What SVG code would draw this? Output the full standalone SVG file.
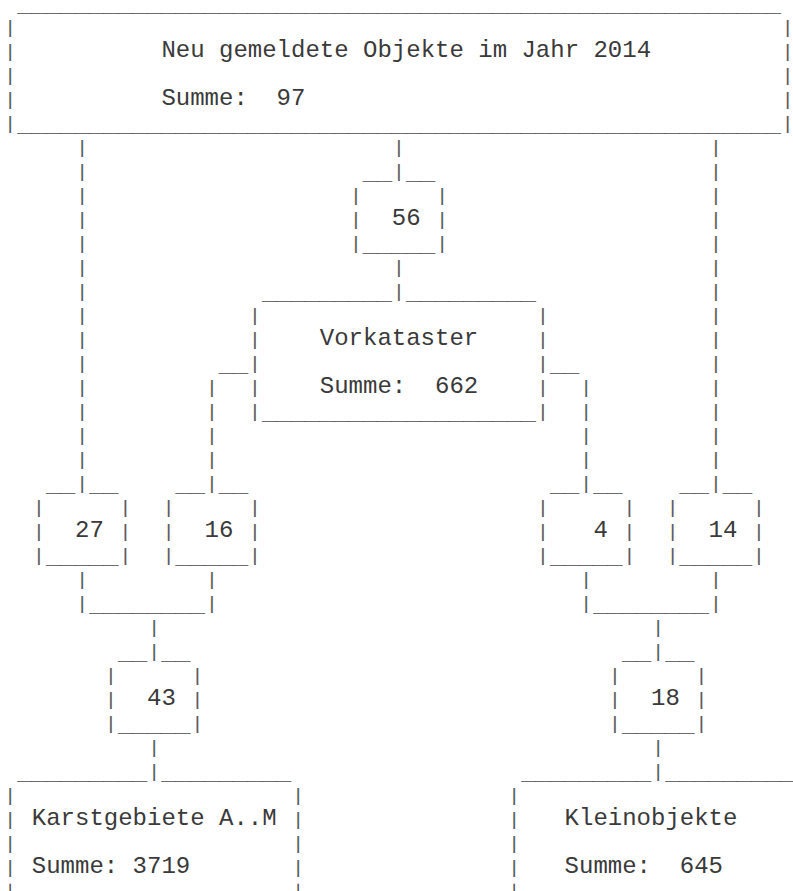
<svg xmlns="http://www.w3.org/2000/svg" width="793" height="891" viewBox="0 0 793 891" xml:space="preserve">
<style>
text{font-family:"Liberation Mono","Courier New",monospace;white-space:pre}
.l{font-size:24px;fill:#3a3a3a}
.p{font-size:18px;fill:#555555;stroke:#555555;stroke-width:0.2;text-anchor:middle;opacity:0.99}
.pe{font-size:8px;fill:#555555;stroke:#555555;stroke-width:0.7;text-anchor:middle;opacity:0.99}
.u{font-size:14px;fill:#4a4a4a;stroke:#4a4a4a;stroke-width:0.3;opacity:0.99}
</style>
<rect width="793" height="891" fill="#ffffff"/>
<g id="connectors">
<text class="p"><tspan x="82.2" y="153">|</tspan><tspan x="82.2" y="177">|</tspan><tspan x="82.2" y="201">|</tspan><tspan x="82.2" y="225">|</tspan><tspan x="82.2" y="249">|</tspan><tspan x="82.2" y="273">|</tspan><tspan x="82.2" y="297">|</tspan><tspan x="82.2" y="321">|</tspan><tspan x="82.2" y="345">|</tspan><tspan x="82.2" y="369">|</tspan><tspan x="82.2" y="393">|</tspan><tspan x="82.2" y="417">|</tspan><tspan x="82.2" y="441">|</tspan><tspan x="82.2" y="465">|</tspan><tspan x="82.2" y="489">|</tspan></text>
<text class="p"><tspan x="715.8" y="153">|</tspan><tspan x="715.8" y="177">|</tspan><tspan x="715.8" y="201">|</tspan><tspan x="715.8" y="225">|</tspan><tspan x="715.8" y="249">|</tspan><tspan x="715.8" y="273">|</tspan><tspan x="715.8" y="297">|</tspan><tspan x="715.8" y="321">|</tspan><tspan x="715.8" y="345">|</tspan><tspan x="715.8" y="369">|</tspan><tspan x="715.8" y="393">|</tspan><tspan x="715.8" y="417">|</tspan><tspan x="715.8" y="441">|</tspan><tspan x="715.8" y="465">|</tspan><tspan x="715.8" y="489">|</tspan></text>
<text class="p"><tspan x="399" y="153">|</tspan><tspan x="399" y="177">|</tspan><tspan x="399" y="273">|</tspan><tspan x="399" y="297">|</tspan></text>
<text class="u" x="219" y="372" textLength="28.8" lengthAdjust="spacingAndGlyphs">__</text>
<text class="u" x="550.2" y="372" textLength="28.8" lengthAdjust="spacingAndGlyphs">__</text>
<text class="p"><tspan x="211.8" y="393">|</tspan><tspan x="211.8" y="417">|</tspan><tspan x="211.8" y="441">|</tspan><tspan x="211.8" y="465">|</tspan><tspan x="211.8" y="489">|</tspan></text>
<text class="p"><tspan x="586.2" y="393">|</tspan><tspan x="586.2" y="417">|</tspan><tspan x="586.2" y="441">|</tspan><tspan x="586.2" y="465">|</tspan><tspan x="586.2" y="489">|</tspan></text>
<text class="p"><tspan x="82.2" y="585">|</tspan><tspan x="82.2" y="609">|</tspan><tspan x="211.8" y="585">|</tspan><tspan x="211.8" y="609">|</tspan><tspan x="154.2" y="633">|</tspan><tspan x="154.2" y="657">|</tspan><tspan x="154.2" y="753">|</tspan><tspan x="154.2" y="777">|</tspan></text>
<text class="p"><tspan x="586.2" y="585">|</tspan><tspan x="586.2" y="609">|</tspan><tspan x="715.8" y="585">|</tspan><tspan x="715.8" y="609">|</tspan><tspan x="658.2" y="633">|</tspan><tspan x="658.2" y="657">|</tspan><tspan x="658.2" y="753">|</tspan><tspan x="658.2" y="777">|</tspan></text>
<text class="u" x="89.4" y="612" textLength="115.2" lengthAdjust="spacingAndGlyphs">________</text>
<text class="u" x="593.4" y="612" textLength="115.2" lengthAdjust="spacingAndGlyphs">________</text>
</g>
<g id="node-neu">
<text class="u" x="17.4" y="12" textLength="763.2" lengthAdjust="spacingAndGlyphs">_____________________________________________________</text>
<text class="p"><tspan x="10.2" y="33">|</tspan><tspan x="10.2" y="57">|</tspan><tspan x="10.2" y="81">|</tspan><tspan x="10.2" y="105">|</tspan><tspan x="10.2" y="129">|</tspan></text>
<text class="p"><tspan x="787.6" y="33">|</tspan><tspan x="787.6" y="57">|</tspan><tspan x="787.6" y="81">|</tspan><tspan x="787.6" y="105">|</tspan><tspan x="787.6" y="129">|</tspan></text>
<text class="l" x="161.4" y="57">Neu gemeldete Objekte im Jahr 2014</text>
<text class="l" x="161.4" y="105">Summe:  97</text>
<text class="u" x="17.4" y="132" textLength="763.2" lengthAdjust="spacingAndGlyphs">_____________________________________________________</text>
</g>
<g id="node-56">
<text class="u" x="363" y="180" textLength="28.8" lengthAdjust="spacingAndGlyphs">__</text>
<text class="u" x="406.2" y="180" textLength="28.8" lengthAdjust="spacingAndGlyphs">__</text>
<text class="p"><tspan x="355.8" y="201">|</tspan><tspan x="355.8" y="225">|</tspan><tspan x="355.8" y="249">|</tspan><tspan x="442.2" y="201">|</tspan><tspan x="442.2" y="225">|</tspan><tspan x="442.2" y="249">|</tspan></text>
<text class="l" x="391.8" y="225">56</text>
<text class="u" x="363" y="252" textLength="72" lengthAdjust="spacingAndGlyphs">_____</text>
</g>
<g id="node-vorkataster">
<text class="u" x="262.2" y="300" textLength="129.6" lengthAdjust="spacingAndGlyphs">_________</text>
<text class="u" x="406.2" y="300" textLength="129.6" lengthAdjust="spacingAndGlyphs">_________</text>
<text class="p"><tspan x="255" y="321">|</tspan><tspan x="255" y="345">|</tspan><tspan x="255" y="369">|</tspan><tspan x="255" y="393">|</tspan><tspan x="255" y="417">|</tspan></text>
<text class="p"><tspan x="543" y="321">|</tspan><tspan x="543" y="345">|</tspan><tspan x="543" y="369">|</tspan><tspan x="543" y="393">|</tspan><tspan x="543" y="417">|</tspan></text>
<text class="l" x="319.8" y="345">Vorkataster</text>
<text class="l" x="319.8" y="393">Summe:  662</text>
<text class="u" x="262.2" y="420" textLength="273.6" lengthAdjust="spacingAndGlyphs">___________________</text>
</g>
<g id="node-27">
<text class="u" x="46.2" y="492" textLength="28.8" lengthAdjust="spacingAndGlyphs">__</text>
<text class="u" x="89.4" y="492" textLength="28.8" lengthAdjust="spacingAndGlyphs">__</text>
<text class="p"><tspan x="39" y="513">|</tspan><tspan x="39" y="537">|</tspan><tspan x="39" y="561">|</tspan><tspan x="125.4" y="513">|</tspan><tspan x="125.4" y="537">|</tspan><tspan x="125.4" y="561">|</tspan></text>
<text class="l" x="75" y="537">27</text>
<text class="u" x="46.2" y="564" textLength="72" lengthAdjust="spacingAndGlyphs">_____</text>
</g>
<g id="node-16">
<text class="u" x="175.8" y="492" textLength="28.8" lengthAdjust="spacingAndGlyphs">__</text>
<text class="u" x="219" y="492" textLength="28.8" lengthAdjust="spacingAndGlyphs">__</text>
<text class="p"><tspan x="168.6" y="513">|</tspan><tspan x="168.6" y="537">|</tspan><tspan x="168.6" y="561">|</tspan><tspan x="255" y="513">|</tspan><tspan x="255" y="537">|</tspan><tspan x="255" y="561">|</tspan></text>
<text class="l" x="204.6" y="537">16</text>
<text class="u" x="175.8" y="564" textLength="72" lengthAdjust="spacingAndGlyphs">_____</text>
</g>
<g id="node-4">
<text class="u" x="550.2" y="492" textLength="28.8" lengthAdjust="spacingAndGlyphs">__</text>
<text class="u" x="593.4" y="492" textLength="28.8" lengthAdjust="spacingAndGlyphs">__</text>
<text class="p"><tspan x="543" y="513">|</tspan><tspan x="543" y="537">|</tspan><tspan x="543" y="561">|</tspan><tspan x="629.4" y="513">|</tspan><tspan x="629.4" y="537">|</tspan><tspan x="629.4" y="561">|</tspan></text>
<text class="l" x="593.4" y="537">4</text>
<text class="u" x="550.2" y="564" textLength="72" lengthAdjust="spacingAndGlyphs">_____</text>
</g>
<g id="node-14">
<text class="u" x="679.8" y="492" textLength="28.8" lengthAdjust="spacingAndGlyphs">__</text>
<text class="u" x="723" y="492" textLength="28.8" lengthAdjust="spacingAndGlyphs">__</text>
<text class="p"><tspan x="672.6" y="513">|</tspan><tspan x="672.6" y="537">|</tspan><tspan x="672.6" y="561">|</tspan><tspan x="759" y="513">|</tspan><tspan x="759" y="537">|</tspan><tspan x="759" y="561">|</tspan></text>
<text class="l" x="708.6" y="537">14</text>
<text class="u" x="679.8" y="564" textLength="72" lengthAdjust="spacingAndGlyphs">_____</text>
</g>
<g id="node-43">
<text class="u" x="118.2" y="660" textLength="28.8" lengthAdjust="spacingAndGlyphs">__</text>
<text class="u" x="161.4" y="660" textLength="28.8" lengthAdjust="spacingAndGlyphs">__</text>
<text class="p"><tspan x="111" y="681">|</tspan><tspan x="111" y="705">|</tspan><tspan x="111" y="729">|</tspan><tspan x="197.4" y="681">|</tspan><tspan x="197.4" y="705">|</tspan><tspan x="197.4" y="729">|</tspan></text>
<text class="l" x="147" y="705">43</text>
<text class="u" x="118.2" y="732" textLength="72" lengthAdjust="spacingAndGlyphs">_____</text>
</g>
<g id="node-18">
<text class="u" x="622.2" y="660" textLength="28.8" lengthAdjust="spacingAndGlyphs">__</text>
<text class="u" x="665.4" y="660" textLength="28.8" lengthAdjust="spacingAndGlyphs">__</text>
<text class="p"><tspan x="615" y="681">|</tspan><tspan x="615" y="705">|</tspan><tspan x="615" y="729">|</tspan><tspan x="701.4" y="681">|</tspan><tspan x="701.4" y="705">|</tspan><tspan x="701.4" y="729">|</tspan></text>
<text class="l" x="651" y="705">18</text>
<text class="u" x="622.2" y="732" textLength="72" lengthAdjust="spacingAndGlyphs">_____</text>
</g>
<g id="node-karst">
<text class="u" x="17.4" y="780" textLength="129.6" lengthAdjust="spacingAndGlyphs">_________</text>
<text class="u" x="161.4" y="780" textLength="129.6" lengthAdjust="spacingAndGlyphs">_________</text>
<text class="p"><tspan x="10.2" y="801">|</tspan><tspan x="10.2" y="825">|</tspan><tspan x="10.2" y="849">|</tspan><tspan x="10.2" y="873">|</tspan></text>
<text class="p"><tspan x="298.2" y="801">|</tspan><tspan x="298.2" y="825">|</tspan><tspan x="298.2" y="849">|</tspan><tspan x="298.2" y="873">|</tspan></text>
<text class="pe"><tspan x="10.2" y="888.5">|</tspan><tspan x="298.2" y="888.5">|</tspan></text>
<text class="l" x="31.8" y="825">Karstgebiete A..M</text>
<text class="l" x="31.8" y="873">Summe: 3719</text>
</g>
<g id="node-klein">
<text class="u" x="521.4" y="780" textLength="129.6" lengthAdjust="spacingAndGlyphs">_________</text>
<text class="u" x="665.4" y="780" textLength="129.6" lengthAdjust="spacingAndGlyphs">_________</text>
<text class="p"><tspan x="514.2" y="801">|</tspan><tspan x="514.2" y="825">|</tspan><tspan x="514.2" y="849">|</tspan><tspan x="514.2" y="873">|</tspan></text>
<text class="pe"><tspan x="514.2" y="888.5">|</tspan></text>
<text class="l" x="564.6" y="825">Kleinobjekte</text>
<text class="l" x="564.6" y="873">Summe:  645</text>
</g>
</svg>
